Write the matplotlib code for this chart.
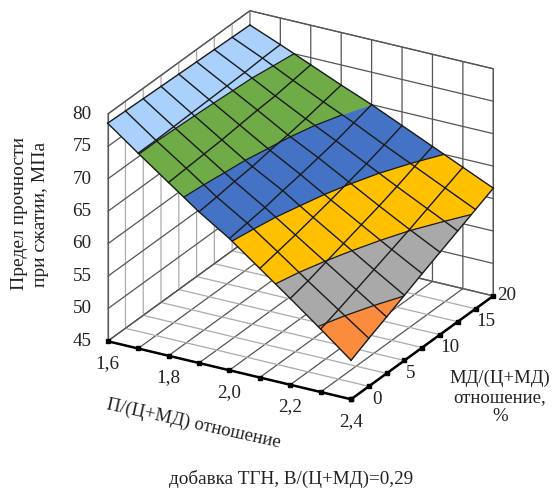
import matplotlib
matplotlib.use("Agg")
import matplotlib.pyplot as plt
import numpy as np
from mpl_toolkits.mplot3d import proj3d
from mpl_toolkits.mplot3d.art3d import Poly3DCollection, Line3DCollection

plt.rcParams['font.family'] = ['Liberation Serif', 'DejaVu Serif']

# P/(C+MD) ratio, MD/(C+MD) percent
x_vals = [1.6, 1.7, 1.8, 1.9, 2.0, 2.1, 2.2, 2.3, 2.4]
y_vals = [0, 2.5, 5, 7.5, 10, 12.5, 15, 17.5, 20]
# strength, one row per x value
strength = [
    [78.6, 78.5, 78.4, 78.3, 78.2, 78.1, 78.0, 77.9, 77.8],
    [75.1, 75.1, 75.2, 75.3, 75.4, 75.5, 75.6, 75.8, 75.9],
    [71.7, 71.9, 72.1, 72.3, 72.6, 72.9, 73.1, 73.5, 73.9],
    [68.3, 68.6, 69.0, 69.3, 69.8, 70.2, 70.7, 71.3, 71.9],
    [65.3, 65.7, 66.1, 66.7, 67.2, 67.8, 68.4, 69.2, 70.0],
    [61.8, 62.4, 63.0, 63.7, 64.4, 65.2, 66.0, 66.9, 67.9],
    [58.3, 59.0, 59.9, 60.8, 61.7, 62.6, 63.6, 64.7, 65.8],
    [54.7, 55.7, 56.8, 57.9, 59.0, 60.1, 61.3, 62.5, 63.7],
    [51.0, 52.4, 53.7, 55.05, 56.4, 57.7, 59.0, 60.3, 61.6],
]
levels = [50, 55, 60, 65, 70, 75, 80]
band_colors = ['#FB8C3E', '#A9A9A9', '#FFC000', '#4472C4', '#6FAB47', '#A9D1FB']
x_tick_vals = [1.6, 1.8, 2.0, 2.2, 2.4]
x_labels = ['1,6', '1,8', '2,0', '2,2', '2,4']
y_tick_vals = [0, 5, 10, 15, 20]
y_labels = ['0', '5', '10', '15', '20']
z_ticks = [45, 50, 55, 60, 65, 70, 75, 80]
TEXT = '#222222'
FS = 13.8


def clip_band(poly, lo, hi):
    # cut a cell polygon to the part between two z levels
    for level, sign in ((lo, 1), (hi, -1)):
        out = []
        for k in range(len(poly)):
            a, b = poly[k], poly[(k + 1) % len(poly)]
            da, db = sign * (a[2] - level), sign * (b[2] - level)
            if da >= 0:
                out.append(a)
            if da * db < 0:
                t = da / (da - db)
                out.append(tuple(a[n] + t * (b[n] - a[n]) for n in range(3)))
        poly = out
        if not poly:
            break
    return poly


def level_segment(cell, level):
    pts = []
    for k in range(4):
        a, b = cell[k], cell[(k + 1) % 4]
        if (a[2] - level) * (b[2] - level) < 0:
            t = (level - a[2]) / (b[2] - a[2])
            pts.append(tuple(a[n] + t * (b[n] - a[n]) for n in range(3)))
    return pts if len(pts) == 2 else None


fig = plt.figure(figsize=(5.52, 4.88), dpi=100)
ax = fig.add_axes([65.1 / 552, 47.6 / 488, 458.4 / 552, 458.4 / 488],
                  projection='3d', computed_zorder=False)
ax.set_proj_type('ortho')
ax.view_init(elev=24.6, azim=-60.2)
ax.set_box_aspect((280.3, 286, 249.6))
ax.set_xlim(1.6, 2.4, view_margin=0)
ax.set_ylim(0, 20, view_margin=0)
ax.set_zlim(45, 80, view_margin=0)
ax.patch.set_alpha(0)

cells = []
for i in range(len(x_vals) - 1):
    for j in range(len(y_vals) - 1):
        cells.append([
            (x_vals[i], y_vals[j], strength[i][j]),
            (x_vals[i + 1], y_vals[j], strength[i + 1][j]),
            (x_vals[i + 1], y_vals[j + 1], strength[i + 1][j + 1]),
            (x_vals[i], y_vals[j + 1], strength[i][j + 1]),
        ])

for n, color in enumerate(band_colors):
    polys = [clip_band(c, levels[n], levels[n + 1]) for c in cells]
    polys = [p for p in polys if p]
    ax.add_collection3d(Poly3DCollection(polys, facecolors=color, edgecolors=color,
                                         linewidths=0.3, zorder=2))

segs = []
for level in levels:
    for c in cells:
        s = level_segment(c, level)
        if s:
            segs.append(s)
ax.add_collection3d(Line3DCollection(segs, colors='#1a1a1a', linewidths=0.9, zorder=3))

z_arr = np.array(strength)
for i, xv in enumerate(x_vals):
    ax.plot([xv] * len(y_vals), y_vals, z_arr[i, :], color='#1a1a1a', lw=1.0, zorder=4)
for j, yv in enumerate(y_vals):
    ax.plot(x_vals, [yv] * len(x_vals), z_arr[:, j], color='#1a1a1a', lw=1.0, zorder=4)

# grid stays on every step, the labels go in by hand below
ax.set_xticks(x_vals, [''] * len(x_vals))
ax.set_yticks(y_vals, [''] * len(y_vals))
ax.set_zticks(z_ticks, [''] * len(z_ticks))
ax.zaxis.set_ticks_position('lower')

for axis in (ax.xaxis, ax.yaxis, ax.zaxis):
    axis.set_pane_color((1, 1, 1, 1))
    axis.pane.set_edgecolor('#595959')
    axis.pane.set_linewidth(0.9)
    axis._axinfo['tick'].update(inward_factor=0, outward_factor=0)
ax.xaxis._axinfo['grid'].update(color='#555555', linewidth=0.9)
ax.yaxis._axinfo['grid'].update(color='#ABABAB', linewidth=0.9)
ax.zaxis._axinfo['grid'].update(color='#555555', linewidth=0.9)
ax.xaxis.line.set(color='black', linewidth=1.8)
ax.yaxis.line.set(color='black', linewidth=1.8)
ax.zaxis.line.set(color='#595959', linewidth=0.9)

# small square tick marks along the two floor axes
ax.plot(x_vals, [0] * len(x_vals), [45] * len(x_vals), ls='none', marker='s', ms=2.6,
        color='black', zorder=1)
ax.plot([2.4] * len(y_vals), y_vals, [45] * len(y_vals), ls='none', marker='s', ms=2.6,
        color='black', zorder=1)


def tick_text(x, y, z, label, dx, dy, ha='center'):
    # dx, dy in pixels from the projected tick position
    px, py, _ = proj3d.proj_transform(x, y, z, ax.get_proj())
    ax.annotate(label, (px, py), xytext=(dx, dy), textcoords='offset pixels', ha=ha,
                va='center', fontsize=FS, color=TEXT, annotation_clip=False)


for v, label in zip(x_tick_vals, x_labels):
    tick_text(v, 0, 45, label, 0, -22)
for v, label, dx in zip(y_tick_vals, y_labels, [21, 19, 18, 19, 4]):
    tick_text(2.4, v, 45, label, dx, 0, ha='left')
for v in z_ticks:
    tick_text(1.6, 0, v, str(v), -16, 0, ha='right')

fig.text(30 / 552, 1 - 214 / 488, 'Предел прочности\nпри сжатии, МПа', rotation=90,
         ha='center', va='center', fontsize=14, color=TEXT, linespacing=1.3, ma='center')
fig.text(194 / 552, 1 - 424 / 488, 'П/(Ц+МД) отношение', rotation=-12.5,
         ha='center', va='center', fontsize=13.5, color=TEXT, rotation_mode='anchor')
fig.text(500 / 552, 1 - 397 / 488, 'МД/(Ц+МД)\nотношение,\n%', ha='center', va='center',
         fontsize=13.5, color=TEXT, linespacing=1.15)
fig.text(291 / 552, 1 - 479 / 488, 'добавка ТГН, В/(Ц+МД)=0,29', ha='center', va='center',
         fontsize=FS, color=TEXT)

fig.savefig('out.png', dpi=100)
